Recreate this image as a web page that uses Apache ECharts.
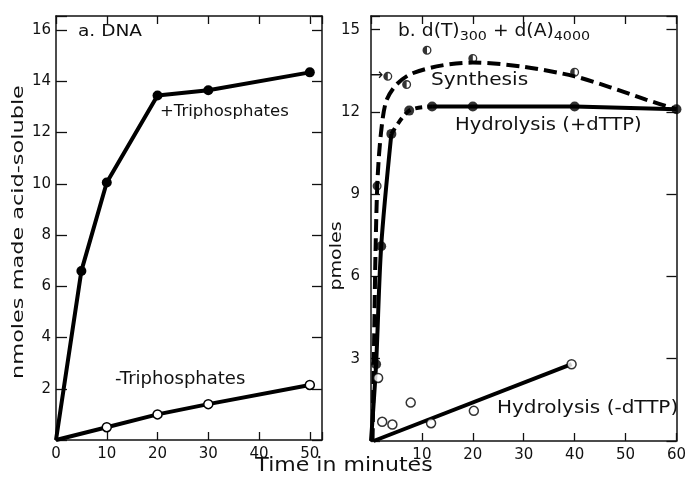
<!DOCTYPE html>
<html>
<head>
<meta charset="utf-8">
<script src="https://cdn.jsdelivr.net/npm/echarts@6/dist/echarts.min.js"></script>
<style>html,body{margin:0;padding:0;background:#fff}#c{width:689px;height:478px}</style>
</head>
<body>
<div id="c"></div>
<script>
// Panel a: DNA
const aPlusTime = [0, 5, 10, 20, 30, 50];
const aPlus = [0, 6.6, 10.05, 13.45, 13.65, 14.35];
const aMinusTime = [0, 10, 20, 30, 50];
const aMinus = [0, 0.5, 1.0, 1.4, 2.15];

// Panel b: d(T)300 + d(A)4000
const bHydPlusTime = [0, 1, 2, 4, 7.5, 12, 20, 40, 60];
const bHydPlus = [0, 2.8, 7.1, 11.2, 12.05, 12.2, 12.2, 12.2, 12.1];
const bSynTime = [1.2, 3.3, 7, 11, 20, 40];
const bSyn = [9.3, 13.3, 13.0, 14.25, 13.95, 13.45];
const bSynCurveTime = [0.3, 0.6, 0.9, 1.3, 2, 3, 5, 8, 14, 20, 30, 40, 47, 54, 60];
const bSynCurve = [0, 3.5, 7, 9.6, 11.3, 12.4, 13.0, 13.4, 13.7, 13.8, 13.65, 13.3, 12.9, 12.45, 12.1];
const bHydMinusTime = [1.4, 2.2, 4.2, 7.8, 11.8, 20.2, 39.4];
const bHydMinus = [2.3, 0.7, 0.6, 1.4, 0.65, 1.1, 2.8];
const bFitTime = [0.5, 39.4];
const bFit = [0, 2.8];

// Tick labels
const aXTicks = [0, 10, 20, 30, 40, 50];
const aYTicks = [2, 4, 6, 8, 10, 12, 14, 16];
const bXTicks = [10, 20, 30, 40, 50, 60];
const bYTicks = [3, 6, 9, 12, 15];

const zip = (xs, ys) => xs.map((x, i) => [x, ys[i]]);
const FONT = 'DejaVu Sans';
const INK = '#111';
const HALF = 'path://M10,0A10,10 0 1,1 10,20A10,10 0 1,1 10,0Z M10,3L10,17A7,7 0 0,0 10,3Z';

function xAx(grid, pos, max, ticks, labels, len) {
  return {
    type: 'value', gridIndex: grid, position: pos, min: 0, max: max, interval: 10,
    axisLine: {show: true, onZero: false, lineStyle: {color: INK, width: 1.5}},
    axisTick: {show: true, inside: true, length: len, lineStyle: {color: INK, width: 1.3}},
    splitLine: {show: false},
    axisLabel: {show: labels, margin: 7, fontSize: 15, fontFamily: FONT, color: INK,
      formatter: v => ticks.indexOf(Math.round(v * 100) / 100) >= 0 ? String(v) : ''}
  };
}
function yAx(grid, pos, max, interval, ticks, labels, len, margin) {
  return {
    type: 'value', gridIndex: grid, position: pos, min: 0, max: max, interval: interval,
    axisLine: {show: true, onZero: false, lineStyle: {color: INK, width: 1.5}},
    axisTick: {show: true, inside: true, length: len, lineStyle: {color: INK, width: 1.3}},
    splitLine: {show: false},
    axisLabel: {show: labels, margin: margin, fontSize: 15, fontFamily: FONT, color: INK,
      formatter: v => ticks.indexOf(Math.round(v * 100) / 100) >= 0 ? String(v) : ''}
  };
}

const filledDot = {symbol: 'circle', symbolSize: 10, itemStyle: {color: '#000'}};
const openDot = {symbol: 'circle', symbolSize: 9, itemStyle: {color: '#fff', borderColor: '#000', borderWidth: 1.5}};

function txt(text, x, y, size, sx, extra) {
  return Object.assign({
    type: 'text', x: x, y: y, scaleX: sx, silent: true,
    style: {text: text, fontSize: size, fontFamily: FONT, fill: INK, align: 'left', verticalAlign: 'middle'}
  }, extra || {});
}

const chart = echarts.init(document.getElementById('c'), null, {renderer: 'canvas'});
chart.setOption({
  backgroundColor: '#fff',
  animation: false,
  grid: [
    {left: 56, top: 16, width: 266, height: 424},
    {left: 371, top: 16, width: 306, height: 425}
  ],
  xAxis: [
    xAx(0, 'bottom', 52.4, aXTicks, true, 8),
    xAx(0, 'top', 52.4, aXTicks, false, 8),
    xAx(1, 'bottom', 60, bXTicks, true, 8),
    xAx(1, 'top', 60, bXTicks, false, 8)
  ],
  yAxis: [
    yAx(0, 'left', 16.55, 2, aYTicks, true, 11, 5),
    yAx(0, 'right', 16.55, 2, aYTicks, false, 10, 5),
    yAx(1, 'left', 15.5, 3, bYTicks, true, 9, 11),
    yAx(1, 'right', 15.5, 3, bYTicks, false, 10, 5)
  ],
  series: [
    // Panel a
    Object.assign({type: 'line', name: '+Triphosphates', xAxisIndex: 0, yAxisIndex: 0,
      data: zip(aPlusTime, aPlus).map((d, i) => i === 0 ? {value: d, symbol: 'none'} : d),
      lineStyle: {color: '#000', width: 4}, z: 3}, filledDot),
    Object.assign({type: 'line', name: '-Triphosphates', xAxisIndex: 0, yAxisIndex: 0,
      data: zip(aMinusTime, aMinus).map((d, i) => i === 0 ? {value: d, symbol: 'none'} : d),
      lineStyle: {color: '#000', width: 4}, z: 3}, openDot),
    // Panel b: synthesis curve (dashed)
    {type: 'line', name: 'Synthesis curve', xAxisIndex: 2, yAxisIndex: 2,
      data: zip(bSynCurveTime, bSynCurve), smooth: 0.3, symbol: 'none',
      lineStyle: {color: '#000', width: 4, type: [13, 6]}, z: 2},
    // Hydrolysis (+dTTP) line: solid / dashed / solid
    {type: 'line', name: 'Hydrolysis (+dTTP) a', xAxisIndex: 2, yAxisIndex: 2,
      data: zip(bHydPlusTime, bHydPlus).slice(0, 4), smooth: 0.3, symbol: 'none',
      lineStyle: {color: '#000', width: 4}, z: 3},
    {type: 'line', name: 'Hydrolysis (+dTTP) b', xAxisIndex: 2, yAxisIndex: 2,
      data: zip(bHydPlusTime, bHydPlus).slice(3, 6), smooth: 0.3, symbol: 'none',
      lineStyle: {color: '#000', width: 4, type: [7, 5]}, z: 3},
    {type: 'line', name: 'Hydrolysis (+dTTP) c', xAxisIndex: 2, yAxisIndex: 2,
      data: zip(bHydPlusTime, bHydPlus).slice(5), symbol: 'none',
      lineStyle: {color: '#000', width: 4}, z: 3},
    Object.assign({type: 'scatter', name: 'Hydrolysis (+dTTP) points', xAxisIndex: 2, yAxisIndex: 2,
      data: zip(bHydPlusTime, bHydPlus).slice(1), z: 4}, filledDot),
    // Hydrolysis (-dTTP)
    {type: 'line', name: 'Hydrolysis (-dTTP) fit', xAxisIndex: 2, yAxisIndex: 2,
      data: zip(bFitTime, bFit), symbol: 'none', lineStyle: {color: '#000', width: 4}, z: 3},
    Object.assign({type: 'scatter', name: 'Hydrolysis (-dTTP) points', xAxisIndex: 2, yAxisIndex: 2,
      data: zip(bHydMinusTime, bHydMinus), z: 4}, openDot),
    // Synthesis points (half-filled)
    {type: 'scatter', name: 'Synthesis points', xAxisIndex: 2, yAxisIndex: 2,
      data: zip(bSynTime, bSyn), symbol: HALF, symbolSize: 9,
      itemStyle: {color: '#000'}, z: 5}
  ],
  graphic: [
    txt('a. DNA', 78, 32, 16, 1.16),
    txt('+Triphosphates', 160, 112, 15, 1.1),
    txt('-Triphosphates', 115, 380, 17, 1.06),
    txt('Synthesis', 431, 80, 18, 1.12),
    txt('Hydrolysis (+dTTP)', 455, 126, 17, 1.15),
    txt('Hydrolysis (-dTTP)', 497, 408, 18, 1.11),
    {type: 'text', x: 398, y: 32, scaleX: 1.1, silent: true,
      style: {text: 'b. d(T){s|300} + d(A){s|4000}', fontSize: 17, fontFamily: FONT, fill: INK,
        align: 'left', verticalAlign: 'middle',
        rich: {s: {fontSize: 13, fontFamily: FONT, fill: INK, padding: [9, 0, 0, 0]}}}},
    txt('\u2192', 370, 76, 16, 1.0),
    {type: 'text', x: 344, y: 466, scaleX: 1.16, silent: true,
      style: {text: 'Time in minutes', fontSize: 19, fontFamily: FONT, fill: INK, align: 'center', verticalAlign: 'middle'}},
    {type: 'text', x: 19, y: 232, rotation: Math.PI / 2, scaleX: 1.4, silent: true,
      style: {text: 'nmoles made acid-soluble', fontSize: 16, fontFamily: FONT, fill: INK, align: 'center', verticalAlign: 'middle'}},
    {type: 'text', x: 337, y: 256, rotation: Math.PI / 2, scaleX: 1.19, silent: true,
      style: {text: 'pmoles', fontSize: 16, fontFamily: FONT, fill: INK, align: 'center', verticalAlign: 'middle'}}
  ]
});
</script>
</body>
</html>
